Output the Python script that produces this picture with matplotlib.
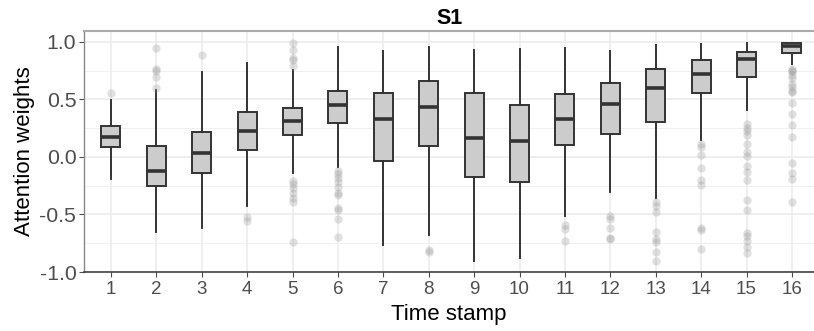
import numpy as np
import matplotlib
matplotlib.use('Agg')
import matplotlib.pyplot as plt

plt.rcParams['font.family'] = ['Liberation Sans', 'DejaVu Sans']

# time stamps 1..16, box stats
stamps = list(range(1, 17))
whislo = [-0.19, -0.656, -0.619, -0.426, -0.143, -0.088, -0.766, -0.674,
          -0.907, -0.879, -0.515, -0.305, -0.359, 0.143, 0.403, 0.806]
q1 = [0.082, -0.25, -0.143, 0.059, 0.192, 0.293, -0.036, 0.094,
      -0.177, -0.221, 0.102, 0.201, 0.305, 0.552, 0.697, 0.902]
med = [0.171, -0.126, 0.033, 0.223, 0.313, 0.452, 0.327, 0.431,
       0.163, 0.14, 0.333, 0.455, 0.599, 0.72, 0.847, 0.962]
q3 = [0.267, 0.091, 0.212, 0.388, 0.426, 0.576, 0.556, 0.656,
      0.558, 0.449, 0.547, 0.645, 0.766, 0.838, 0.911, 0.985]
whishi = [0.498, 0.584, 0.74, 0.812, 0.755, 0.957, 0.922, 0.957,
          0.931, 0.933, 0.945, 0.922, 0.974, 0.98, 0.988, 0.985]
outliers = [
    [0.558],
    [0.945, 0.763, 0.749, 0.697, 0.599],
    [0.881],
    [-0.526, -0.556],
    [0.988, 0.931, 0.859, 0.841, 0.79, -0.212, -0.233, -0.27, -0.313, -0.359, -0.391, -0.743],
    [-0.126, -0.152, -0.18, -0.218, -0.261, -0.313, -0.333, -0.44, -0.463, -0.541, -0.694],
    [],
    [-0.804, -0.827],
    [],
    [],
    [-0.593, -0.622, -0.729],
    [-0.512, -0.541, -0.619, -0.703, -0.714],
    [-0.388, -0.423, -0.481, -0.648, -0.712, -0.738, -0.827, -0.902],
    [0.108, 0.082, 0.016, -0.097, -0.203, -0.241, -0.613, -0.634, -0.798],
    [0.287, 0.249, 0.221, 0.192, 0.108, 0.042, 0.004, -0.08, -0.134, -0.197,
     -0.377, -0.461, -0.665, -0.683, -0.729, -0.778, -0.833],
    [0.763, 0.749, 0.743, 0.714, 0.686, 0.634, 0.604, 0.576, 0.561, 0.472,
     0.374, 0.273, 0.177, -0.053, -0.14, -0.195, -0.388],
]

stats = []
for i in range(len(stamps)):
    stats.append(dict(whislo=whislo[i], q1=q1[i], med=med[i], q3=q3[i],
                      whishi=whishi[i], fliers=outliers[i]))

fig = plt.figure(figsize=(8.14, 3.31), dpi=100)
ax = fig.add_axes([0.1032, 0.178, 0.897, 0.7283])

dark = '#333333'
ax.bxp(stats, positions=stamps, widths=0.42, patch_artist=True, showcaps=False,
       boxprops=dict(facecolor='#cccccc', edgecolor=dark, linewidth=1.4),
       whiskerprops=dict(color=dark, linewidth=1.4),
       medianprops=dict(color=dark, linewidth=2.6, solid_capstyle='butt'),
       flierprops=dict(marker='o', markersize=6, markerfacecolor='#999999',
                       markeredgecolor='none', alpha=0.3),
       zorder=3)

ax.set_xlim(0.407, 16.49)
ax.set_ylim(-1.0, 1.093)
ax.set_yticks([-1.0, -0.5, 0.0, 0.5, 1.0])
ax.set_yticklabels(['-1.0', '-0.5', '0.0', '0.5', '1.0'])
ax.set_yticks([-0.75, -0.25, 0.25, 0.75], minor=True)
ax.set_xticks(stamps)
ax.set_xticklabels([str(s) for s in stamps])

ax.grid(True, which='major', color='#ebebeb', linewidth=1.1, zorder=0)
ax.grid(True, which='minor', axis='y', color='#f0f0f0', linewidth=0.7, zorder=0)
ax.set_axisbelow(True)

ax.tick_params(axis='y', labelsize=15.3, colors='#4d4d4d', length=3.5, width=0.8, pad=2)
ax.tick_params(axis='x', labelsize=13.5, colors='#4d4d4d', length=3.5, width=0.8, pad=3)
ax.tick_params(axis='y', which='minor', length=0)
for t in ax.get_xticklines() + ax.get_yticklines():
    t.set_color(dark)

ax.spines['top'].set_color('#aaaaaa')
ax.spines['top'].set_linewidth(1.5)
ax.spines['left'].set_color('#888888')
ax.spines['left'].set_linewidth(1.0)
ax.spines['bottom'].set_color(dark)
ax.spines['bottom'].set_linewidth(1.1)
ax.spines['right'].set_visible(False)

ax.set_xlabel('Time stamp', fontsize=16, labelpad=4)
ax.set_ylabel('Attention weights', fontsize=16, labelpad=3)
ax.set_title('S1', fontsize=15.5, fontweight='bold', pad=5)

plt.savefig('out.png', dpi=100)
